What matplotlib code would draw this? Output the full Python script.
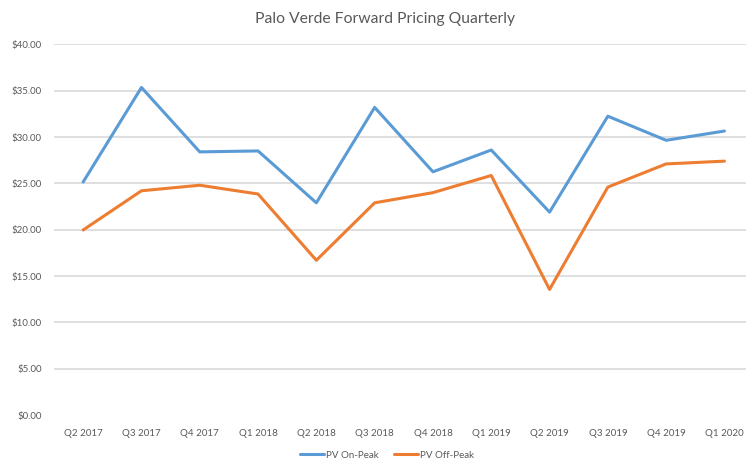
import numpy as np
import matplotlib
matplotlib.use("Agg")
import matplotlib.pyplot as plt
from matplotlib.ticker import FuncFormatter

# data
quarters = ["Q2 2017", "Q3 2017", "Q4 2017", "Q1 2018", "Q2 2018", "Q3 2018",
            "Q4 2018", "Q1 2019", "Q2 2019", "Q3 2019", "Q4 2019", "Q1 2020"]
on_peak = [25.15, 35.35, 28.4, 28.5, 22.9, 33.2, 26.25, 28.6, 21.9, 32.25, 29.65, 30.65]
off_peak = [19.97, 24.2, 24.8, 23.85, 16.7, 22.9, 24.0, 25.85, 13.55, 24.6, 27.1, 27.4]

plt.rcParams['font.family'] = ['Lato', 'DejaVu Sans']
gray = '#595959'

fig = plt.figure(figsize=(7.46, 4.62), dpi=100)
W, H = 746, 462
# plot area: left 54px, x spacing ~58.3px, $0 at y=415, $40 at y=44.4
ax = fig.add_axes([54 / W, 1 - 415 / H, 12 * 58.3 / W, (415 - 44.4) / H])

x = np.arange(len(quarters))
ax.plot(x, on_peak, color='#5B9BD5', linewidth=2.2, label='PV On-Peak',
        solid_joinstyle='round', solid_capstyle='round')
ax.plot(x, off_peak, color='#ED7D31', linewidth=2.2, label='PV Off-Peak',
        solid_joinstyle='round', solid_capstyle='round')

ax.set_xlim(-0.5, len(quarters) - 0.5)
ax.set_ylim(0, 40)
ax.set_yticks(np.arange(0, 41, 5))
ax.yaxis.set_major_formatter(FuncFormatter(lambda v, p: f'${v:.2f}'))
ax.set_xticks(x)
ax.set_xticklabels(quarters)

for s in ax.spines.values():
    s.set_visible(False)
ax.tick_params(length=0, colors=gray, labelsize=7)
ax.tick_params(axis='y', pad=9)
ax.tick_params(axis='x', pad=10)
ax.grid(axis='y', color='#D9D9D9', linewidth=1.2)
ax.set_axisbelow(True)
for gl in ax.get_ygridlines()[:1]:
    gl.set_visible(False)

fig.text(385 / W, 1 - 19 / H, 'Palo Verde Forward Pricing Quarterly',
         ha='center', va='center', fontsize=11.3, color=gray)

fig.legend(loc='center', bbox_to_anchor=(387 / W, 1 - 455 / H), ncol=2,
           frameon=False, fontsize=7, handlelength=2.5, handletextpad=0.2,
           columnspacing=1.5, labelcolor=gray)

fig.savefig('out.png', dpi=100)
